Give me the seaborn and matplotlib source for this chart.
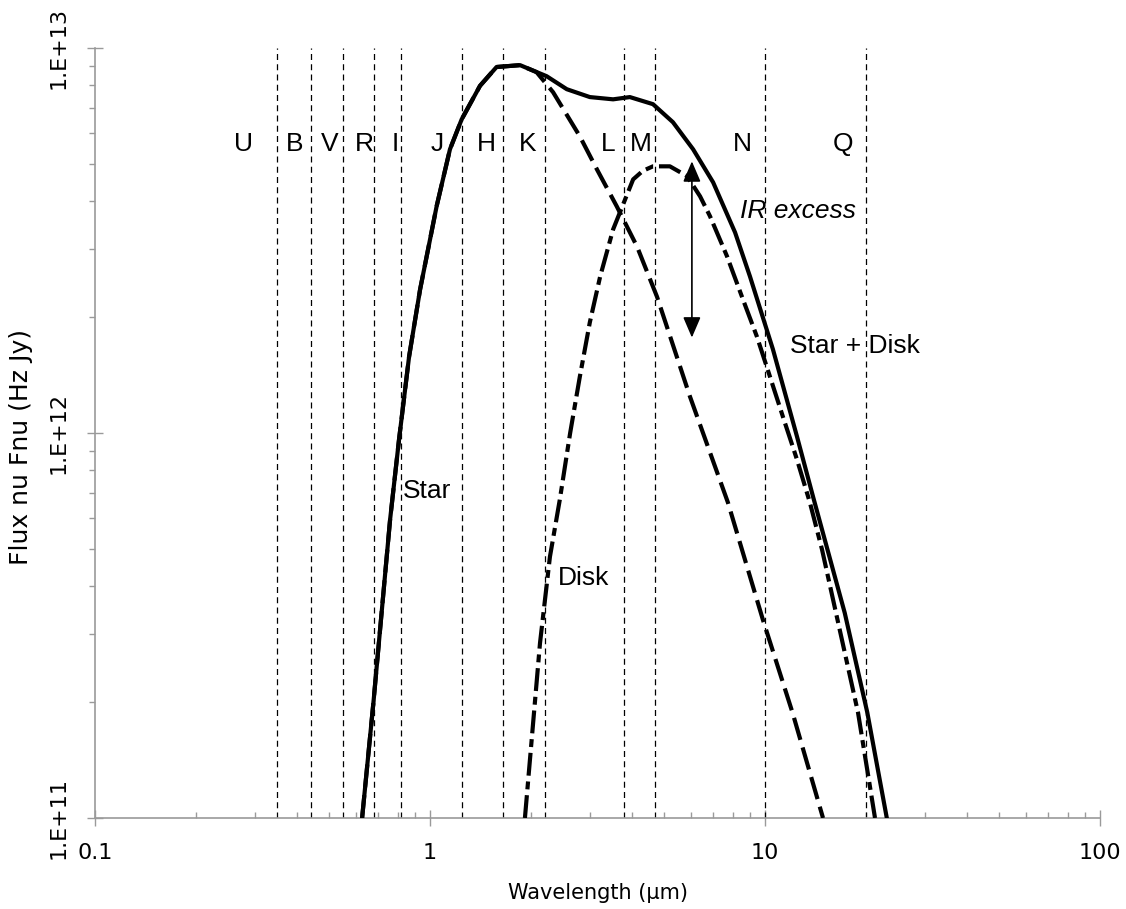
import numpy as np
import pandas as pd
import matplotlib
matplotlib.use("Agg")
import matplotlib.pyplot as plt
import seaborn as sns

# Style
sns.set_style("ticks")
plt.rcParams['font.family'] = ['DejaVu Sans']
plt.rcParams['text.color'] = 'black'
plt.rcParams['axes.labelcolor'] = 'black'

# -------------------------------------------------------
# Data (wavelength in um, flux in Hz Jy)
star_wl = [0.627, 0.679, 0.760, 0.808, 0.866, 0.934, 1.047, 1.147, 1.243, 1.41,
           1.58, 1.857, 2.08, 2.33, 2.80, 3.15, 3.61, 4.15, 4.76, 5.97,
           7.75, 9.86, 12.1, 14.9]
star_flux = [1.0e11, 2.03e11, 5.96e11, 9.61e11, 1.58e12, 2.36e12, 3.89e12, 5.46e12, 6.53e12, 7.98e12,
             8.93e12, 9.03e12, 8.66e12, 7.68e12, 5.90e12, 4.84e12, 3.88e12, 3.05e12, 2.26e12, 1.244e12,
             6.60e11, 3.27e11, 1.87e11, 1.0e11]

disk_wl = [1.92, 2.13, 2.28, 2.44, 2.62, 2.80, 3.00, 3.22, 3.52, 4.04, 4.32, 4.63,
           5.20, 5.85, 6.40, 6.85, 7.70, 8.60, 9.46, 10.35, 11.32, 12.46, 13.62,
           14.80, 16.29, 18.95, 21.3]
disk_flux = [1.0e11, 2.85e11, 4.77e11, 6.71e11, 1.00e12, 1.40e12, 1.94e12, 2.55e12, 3.38e12, 4.56e12, 4.80e12, 4.93e12,
             4.93e12, 4.65e12, 4.12e12, 3.66e12, 2.88e12, 2.22e12, 1.78e12, 1.40e12, 1.10e12, 8.53e11, 6.59e11,
             4.98e11, 3.41e11, 1.88e11, 1.0e11]

sum_wl = [0.627, 0.679, 0.760, 0.808, 0.866, 0.934, 1.047, 1.147, 1.243, 1.41,
          1.58, 1.857, 2.23, 2.56, 3.00, 3.52, 3.95, 4.63, 5.31, 6.10,
          7.00, 8.14, 9.02, 10.56, 12.46, 13.91, 17.3, 20.2, 23.1]
sum_flux = [1.0e11, 2.03e11, 5.96e11, 9.61e11, 1.58e12, 2.36e12, 3.89e12, 5.46e12, 6.53e12, 7.98e12,
            8.93e12, 9.03e12, 8.45e12, 7.82e12, 7.46e12, 7.36e12, 7.46e12, 7.15e12, 6.42e12, 5.46e12,
            4.48e12, 3.32e12, 2.55e12, 1.65e12, 9.79e11, 6.84e11, 3.41e11, 1.88e11, 1.0e11]

# Photometric bands: dashed line wavelengths and label spots
band_wl = [0.35, 0.44, 0.55, 0.68, 0.82, 1.25, 1.65, 2.2, 3.8, 4.7, 10, 20]
band_names = ['U', 'B', 'V', 'R', 'I', 'J', 'H', 'K', 'L', 'M', 'N', 'Q']
band_label_x = [0.278, 0.395, 0.503, 0.635, 0.786, 1.049, 1.47, 1.96, 3.40, 4.27, 8.54, 17.1]

x_ticks = [0.1, 1, 10, 100]
x_tick_labels = ['0.1', '1', '10', '100']
y_ticks = [1e11, 1e12, 1e13]
y_tick_labels = ['1.E+11', '1.E+12', '1.E+13']

df_star = pd.DataFrame({'wl': star_wl, 'flux': star_flux})
df_disk = pd.DataFrame({'wl': disk_wl, 'flux': disk_flux})
df_sum = pd.DataFrame({'wl': sum_wl, 'flux': sum_flux})

# -------------------------------------------------------
fig = plt.figure(figsize=(11.26, 9.09), dpi=100)
ax = fig.add_axes([0.0844, 0.1001, 0.8925, 0.847])
ax.set_xscale('log')
ax.set_yscale('log')

# band lines
for wl in band_wl:
    ax.axvline(wl, color='black', lw=0.9, linestyle=(0, (4.8, 3.4)), zorder=1)

# curves
sns.lineplot(data=df_star, x='wl', y='flux', ax=ax, color='black', lw=3.0,
             linestyle=(0, (5.5, 1.9)), sort=False, estimator=None, zorder=3)
sns.lineplot(data=df_disk, x='wl', y='flux', ax=ax, color='black', lw=3.0,
             linestyle=(0, (5.5, 1.4, 1.9, 1.4)), sort=False, estimator=None, zorder=3)
sns.lineplot(data=df_sum, x='wl', y='flux', ax=ax, color='black', lw=3.0,
             sort=False, estimator=None, zorder=4)

ax.set_xlim(0.1, 100)
ax.set_ylim(1e11, 1e13)

# band labels
for name, lx in zip(band_names, band_label_x):
    ax.text(lx, 5.63e12, name, ha='center', va='center', fontsize=19,
            family='Liberation Sans')

# annotations
ax.text(0.831, 7.05e11, 'Star', ha='left', va='center', fontsize=19, family='Liberation Sans')
ax.text(2.41, 4.21e11, 'Disk', ha='left', va='center', fontsize=19, family='Liberation Sans')
ax.text(11.88, 1.68e12, 'Star + Disk', ha='left', va='center', fontsize=19, family='Liberation Sans')
ax.text(12.55, 3.77e12, 'IR excess', ha='center', va='center', fontsize=19,
        family='Liberation Sans', style='italic')
ax.annotate('', xy=(6.05, 5.08e12), xytext=(6.05, 1.77e12),
            arrowprops=dict(arrowstyle='<|-|>,head_length=0.7,head_width=0.3',
                            color='black', lw=1.2, mutation_scale=18,
                            shrinkA=0, shrinkB=0))

# axes styling
sns.despine(ax=ax)
for side in ['left', 'bottom']:
    ax.spines[side].set_color('#9a9a9a')
    ax.spines[side].set_linewidth(1.2)

ax.set_xticks(x_ticks)
ax.set_xticklabels(x_tick_labels, fontsize=16)
ax.set_yticks(y_ticks)
ax.set_yticklabels(y_tick_labels, fontsize=16, rotation=90, va='center')
ax.tick_params(axis='both', which='major', direction='inout', length=11.5,
               width=1, color='#9a9a9a', labelcolor='black')
ax.tick_params(axis='x', which='major', pad=12)
ax.tick_params(axis='y', which='major', pad=13)
ax.tick_params(axis='x', which='minor', direction='in', length=4, width=1, color='#9a9a9a')
ax.tick_params(axis='y', which='minor', direction='out', length=4, width=1, color='#9a9a9a')
ax.yaxis.set_minor_formatter(matplotlib.ticker.NullFormatter())
ax.xaxis.set_minor_formatter(matplotlib.ticker.NullFormatter())

ax.set_xlabel("Wavelength (\u00b5m)", fontsize=15)
ax.set_ylabel("Flux nu Fnu (Hz Jy)", fontsize=18)
ax.xaxis.set_label_coords(0.5, -0.085)
ax.yaxis.set_label_coords(-0.062, 0.482)
ax.grid(False)

plt.savefig("out.png", dpi=100)
